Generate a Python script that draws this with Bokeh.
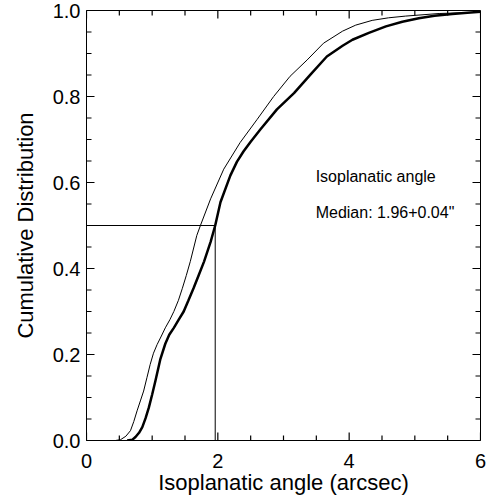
from bokeh.plotting import figure
from bokeh.models import Range1d, FixedTicker, PrintfTickFormatter, Label
from bokeh.embed import file_html
from bokeh.resources import INLINE

# Thick curve (median 1.96")
thick_x = [0.62, 0.70, 0.746, 0.80, 0.85, 0.90, 0.95, 1.00, 1.05, 1.126, 1.20, 1.26, 1.33, 1.40, 1.48,
           1.55, 1.63, 1.71, 1.79, 1.89, 1.96, 2.04, 2.19, 2.29, 2.39, 2.50, 2.65, 2.90, 3.16, 3.41, 3.66,
           3.90, 4.05, 4.30, 4.56, 4.81, 5.06, 5.30, 5.57, 5.80, 6.0]
thick_y = [0.0, 0.002, 0.008, 0.018, 0.031, 0.052, 0.077, 0.107, 0.139, 0.190, 0.225, 0.246, 0.262, 0.280,
           0.300, 0.325, 0.354, 0.385, 0.416, 0.462, 0.500, 0.554, 0.616, 0.648, 0.672, 0.695, 0.724, 0.770,
           0.808, 0.851, 0.893, 0.918, 0.932, 0.948, 0.963, 0.974, 0.982, 0.988, 0.992, 0.995, 0.997]

# Thin curve
thin_x = [0.44, 0.52, 0.60, 0.67, 0.72, 0.77, 0.82, 0.87, 0.92, 0.97, 1.02, 1.075, 1.14, 1.20, 1.27, 1.33,
          1.40, 1.46, 1.52, 1.58, 1.68, 1.735, 1.89, 2.09, 2.34, 2.60, 2.85, 3.10, 3.36, 3.61, 3.90, 4.10,
          4.35, 4.60, 4.86, 5.37, 6.0]
thin_y = [0.0, 0.002, 0.010, 0.023, 0.044, 0.069, 0.092, 0.115, 0.146, 0.177, 0.203, 0.223, 0.243, 0.262,
          0.281, 0.300, 0.326, 0.354, 0.384, 0.416, 0.477, 0.500, 0.562, 0.631, 0.693, 0.747, 0.800, 0.847,
          0.885, 0.924, 0.952, 0.966, 0.977, 0.983, 0.987, 0.993, 0.996]

median = 1.96
median_level = 0.5

x_ticks = [0, 2, 4, 6]
x_minor = [0.5, 1.0, 1.5, 2.5, 3.0, 3.5, 4.5, 5.0, 5.5]
y_ticks = [0.0, 0.2, 0.4, 0.6, 0.8, 1.0]
y_minor = [0.05, 0.10, 0.15, 0.25, 0.30, 0.35, 0.45, 0.50, 0.55, 0.65, 0.70, 0.75, 0.85, 0.90, 0.95]

title_text = "Isoplanatic angle"
median_text = 'Median: 1.96+0.04"'
x_label = "Isoplanatic angle (arcsec)"
y_label = "Cumulative Distribution"

FONT = "Liberation Sans"
TICK_FS = "20px"
LABEL_FS = "22px"

X0, X1, Y0, Y1 = 0, 6, 0, 1
FRAME_W, FRAME_H = 394, 430
MAJOR_LEN, MINOR_LEN = 8, 5

p = figure(width=500, height=497, x_range=Range1d(X0, X1), y_range=Range1d(Y0, Y1),
           output_backend="svg", toolbar_location=None,
           min_border_left=86, min_border_right=20, min_border_top=10, min_border_bottom=57,
           x_axis_label=x_label, y_axis_label=y_label)

p.xgrid.visible = False
p.ygrid.visible = False
p.outline_line_color = "black"
p.outline_line_width = 1
p.background_fill_color = "white"
p.border_fill_color = "white"

p.xaxis.ticker = FixedTicker(ticks=x_ticks)
p.yaxis.ticker = FixedTicker(ticks=y_ticks)
p.yaxis.formatter = PrintfTickFormatter(format="%.1f")

for ax in list(p.xaxis) + list(p.yaxis):
    ax.major_tick_in = 0
    ax.major_tick_out = 0
    ax.minor_tick_in = 0
    ax.minor_tick_out = 0
    ax.minor_tick_line_color = None
    ax.major_tick_line_color = None
    ax.axis_line_color = "black"
    ax.major_label_text_font = FONT
    ax.major_label_text_font_size = TICK_FS
    ax.major_label_text_color = "black"
    ax.axis_label_text_font = FONT
    ax.axis_label_text_font_size = LABEL_FS
    ax.axis_label_text_font_style = "normal"
    ax.axis_label_text_color = "black"

p.xaxis.major_label_standoff = 13
p.xaxis.axis_label_standoff = -1
p.yaxis.major_label_standoff = 6
p.yaxis.axis_label_standoff = 12

# inward ticks on all four sides, built from the tick lists
dx_maj = MAJOR_LEN * (X1 - X0) / FRAME_W
dx_min = MINOR_LEN * (X1 - X0) / FRAME_W
dy_maj = MAJOR_LEN * (Y1 - Y0) / FRAME_H
dy_min = MINOR_LEN * (Y1 - Y0) / FRAME_H

sx0, sy0, sx1, sy1 = [], [], [], []
for ticks, ly in ((x_ticks, dy_maj), (x_minor, dy_min)):
    for t in ticks:
        sx0 += [t, t]; sx1 += [t, t]
        sy0 += [Y0, Y1]; sy1 += [Y0 + ly, Y1 - ly]
for ticks, lx in ((y_ticks, dx_maj), (y_minor, dx_min)):
    for t in ticks:
        sx0 += [X0, X1]; sx1 += [X0 + lx, X1 - lx]
        sy0 += [t, t]; sy1 += [t, t]
p.segment(x0=sx0, y0=sy0, x1=sx1, y1=sy1, line_color="black", line_width=1.2)

# curves
p.line(thin_x, thin_y, line_color="black", line_width=1)
p.line(thick_x, thick_y, line_color="black", line_width=2.5)

# median guide lines
p.line([X0, median, median], [median_level, median_level, Y0], line_color="black", line_width=1)

p.add_layout(Label(x=3.49, y=0.615, text=title_text, text_align="left", text_baseline="alphabetic",
                   text_font=FONT, text_font_size="16px", text_color="black"))
p.add_layout(Label(x=3.49, y=0.531, text=median_text, text_align="left", text_baseline="alphabetic",
                   text_font=FONT, text_font_size="16px", text_color="black"))

open("out.html", "w").write(file_html(p, INLINE))
